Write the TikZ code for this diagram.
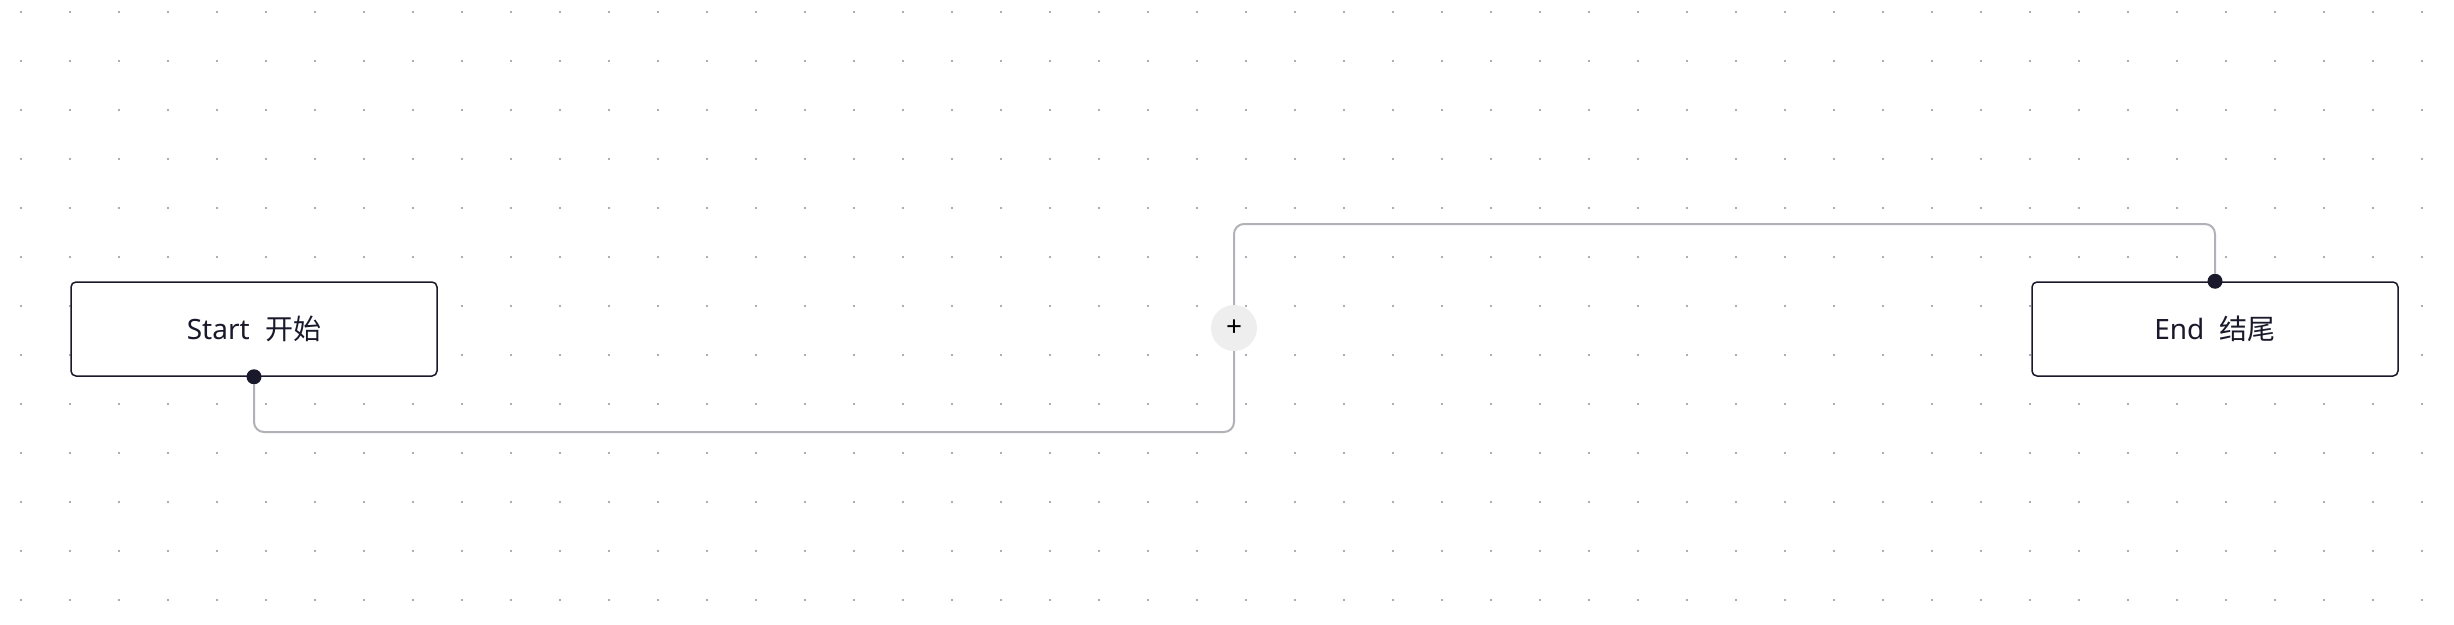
\documentclass[tikz,border=0pt]{standalone}
\usepackage{fontspec}
\setmainfont{Noto Sans}
\newfontfamily\cjk{Noto Sans CJK SC}
\usetikzlibrary{positioning,backgrounds}
\definecolor{nodeedge}{HTML}{1A192B}
\definecolor{edgegray}{HTML}{B1B1B7}
\definecolor{addbg}{HTML}{EEEEEE}
\definecolor{dotgray}{HTML}{91919A}

\begin{document}
\begin{tikzpicture}[x=1pt,y=-1pt,
    flownode/.style={draw=nodeedge, line width=1.5pt, fill=white, rounded corners=5pt,
        minimum width=366pt, minimum height=94pt, font=\fontsize{28}{32}\selectfont, text=nodeedge},
    handle/.style={circle, fill=nodeedge, inner sep=0pt, minimum size=15pt},
    addbtn/.style={circle, fill=addbg, inner sep=0pt, minimum size=46pt, font=\fontsize{28}{32}\selectfont},
    flowedge/.style={draw=edgegray, line width=2pt, rounded corners=10pt}]
    \useasboundingbox (0,0) rectangle (2454,624);

    % the two nodes
    \node[flownode] (start) at (254,329) {Start\hspace{0.55em}{\cjk 开始}};
    \node[flownode] (finish) at (2215,329) {End\hspace{0.55em}{\cjk 结尾}};
    \node[handle] (startport) at (start.south) {};
    \node[handle] (finishport) at (finish.north) {};

    % button on the edge
    \node[addbtn] (add) at (1234,328) {+};
    \coordinate (low) at (1234,432);
    \coordinate (high) at (1234,224);

    \begin{scope}[on background layer]
        % dot grid
        \foreach \i in {0,...,49}{
            \foreach \j in {0,...,12}{
                \fill[dotgray] ({21+49*\i},{12+49*\j}) circle (1.2pt);
            }
        }
        % edge from start to end
        \draw[flowedge] (startport) |- (low) -- (add.south);
        \draw[flowedge] (add.north) -- (high) -| (finishport);
    \end{scope}
\end{tikzpicture}
\end{document}
